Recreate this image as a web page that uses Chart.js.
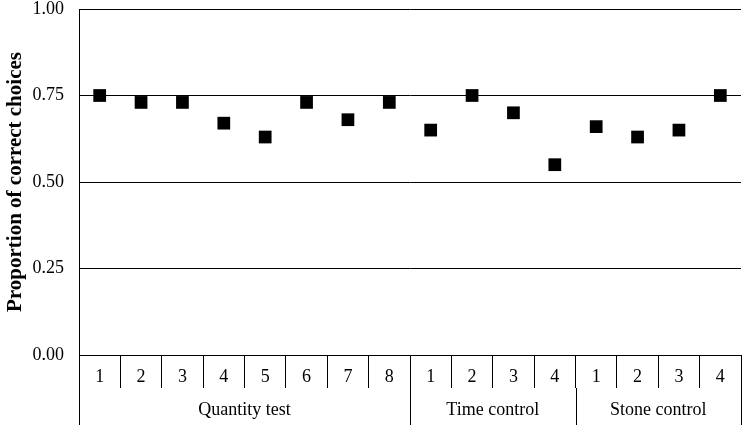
<!DOCTYPE html>
<html>
<head>
<meta charset="utf-8">
<script src="https://cdn.jsdelivr.net/npm/chart.js@4"></script>
<style>
  html, body { margin: 0; padding: 0; background: #fff; overflow: hidden; }
  #wrap { width: 742px; height: 425px; }
</style>
</head>
<body>
<div id="wrap"><canvas id="myChart"></canvas></div>
<script>
// data
const categories = ['1', '2', '3', '4', '5', '6', '7', '8', '1', '2', '3', '4', '1', '2', '3', '4'];
const proportions = [0.75, 0.73, 0.73, 0.67, 0.63, 0.73, 0.68, 0.73, 0.65, 0.75, 0.70, 0.55, 0.66, 0.63, 0.65, 0.75];
const groupNames = ['Quantity test', 'Time control', 'Stone control'];
const groupSizes = [8, 4, 4];
const yTicks = [0, 0.25, 0.5, 0.75, 1];

const serif = '"Liberation Serif", "Times New Roman", serif';

// group row under the category ticks
const groupRow = {
  id: 'groupRow',
  afterDraw(chart) {
    const ctx = chart.ctx;
    const x = chart.scales.x;
    const half = (x.getPixelForValue(1) - x.getPixelForValue(0)) / 2;
    const top = x.bottom;
    const bottom = chart.height;
    ctx.save();
    ctx.strokeStyle = '#000';
    ctx.lineWidth = 1;
    ctx.fillStyle = '#000';
    ctx.font = '18px ' + serif;
    ctx.textAlign = 'center';
    ctx.textBaseline = 'middle';
    let start = 0;
    const edges = [x.getPixelForValue(0) - half];
    groupSizes.forEach((n, i) => {
      const x0 = x.getPixelForValue(start) - half;
      const x1 = x.getPixelForValue(start + n - 1) + half;
      edges.push(x1);
      ctx.fillText(groupNames[i], (x0 + x1) / 2, top + 22);
      start += n;
    });
    edges.forEach(e => {
      const px = Math.round(e) + 0.5;
      ctx.beginPath();
      ctx.moveTo(px, top);
      ctx.lineTo(px, bottom);
      ctx.stroke();
    });
    ctx.restore();
  }
};

new Chart(document.getElementById('myChart'), {
  type: 'line',
  data: {
    labels: categories,
    datasets: [{
      data: proportions,
      showLine: false,
      pointStyle: 'rect',
      pointRadius: 9,
      pointHoverRadius: 9,
      backgroundColor: '#000',
      borderColor: '#000',
      borderWidth: 0
    }]
  },
  options: {
    responsive: true,
    maintainAspectRatio: false,
    animation: false,
    devicePixelRatio: 1,
    layout: { autoPadding: false, padding: { top: 9, right: 1, bottom: 37, left: 0 } },
    plugins: { legend: { display: false }, tooltip: { enabled: false } },
    scales: {
      x: {
        type: 'category',
        offset: true,
        grid: {
          offset: true,
          drawOnChartArea: false,
          drawTicks: true,
          tickLength: 33,
          color: '#000',
          lineWidth: 1
        },
        border: { display: true, color: '#000' },
        ticks: {
          color: '#000',
          font: { family: serif, size: 18 },
          padding: -22,
          maxRotation: 0,
          autoSkip: false
        },
        afterFit(scale) {
          scale.height = 33;
          scale.paddingLeft = 0;
          scale.paddingRight = 0;
        }
      },
      y: {
        min: 0,
        max: 1,
        afterBuildTicks(scale) { scale.ticks = yTicks.map(v => ({ value: v })); },
        grid: { color: '#000', lineWidth: 1, drawTicks: false },
        border: { display: true, color: '#000' },
        ticks: {
          color: '#000',
          font: { family: serif, size: 18 },
          padding: 15,
          callback: v => v.toFixed(2)
        },
        title: {
          display: true,
          text: 'Proportion of correct choices',
          color: '#000',
          font: { family: serif, size: 21, weight: 'bold' },
          padding: { top: 3, bottom: 0 }
        },
        afterFit(scale) {
          scale.width = 79;
          scale.paddingTop = 0;
          scale.paddingBottom = 0;
        }
      }
    }
  },
  plugins: [groupRow]
});
</script>
</body>
</html>
